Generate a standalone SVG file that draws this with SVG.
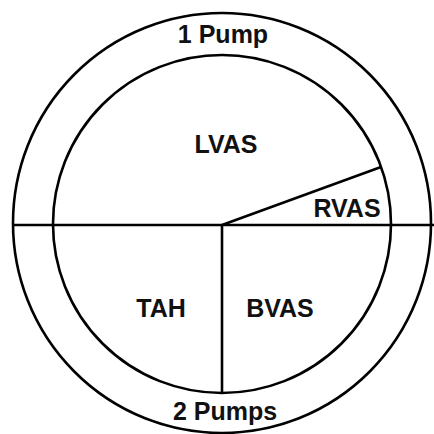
<svg xmlns="http://www.w3.org/2000/svg" width="434" height="434" viewBox="0 0 434 434">
<style>
.s{fill:none;stroke:#000;stroke-width:2.6}
.t{font-family:"Liberation Sans",Arial,sans-serif;font-weight:bold;font-size:25px;fill:#111;text-anchor:middle}
</style>
<rect width="434" height="434" fill="#fff"/>
<g id="outer"><ellipse class="s" cx="222" cy="223" rx="209" ry="210"/></g>
<g id="inner"><circle class="s" cx="222" cy="224" r="169"/></g>
<g id="connectors">
<line class="s" x1="12" y1="225" x2="434" y2="225"/>
<line class="s" x1="222" y1="225" x2="222" y2="393"/>
<line class="s" x1="222" y1="225" x2="381" y2="167"/>
</g>
<g id="pump1"><text class="t" x="223" y="43">1 Pump</text></g>
<g id="lvas"><text class="t" x="226" y="153">LVAS</text></g>
<g id="rvas"><text class="t" x="347" y="217">RVAS</text></g>
<g id="tah"><text class="t" x="161" y="317">TAH</text></g>
<g id="bvas"><text class="t" x="280" y="317">BVAS</text></g>
<g id="pump2"><text class="t" x="225" y="420">2 Pumps</text></g>
</svg>
